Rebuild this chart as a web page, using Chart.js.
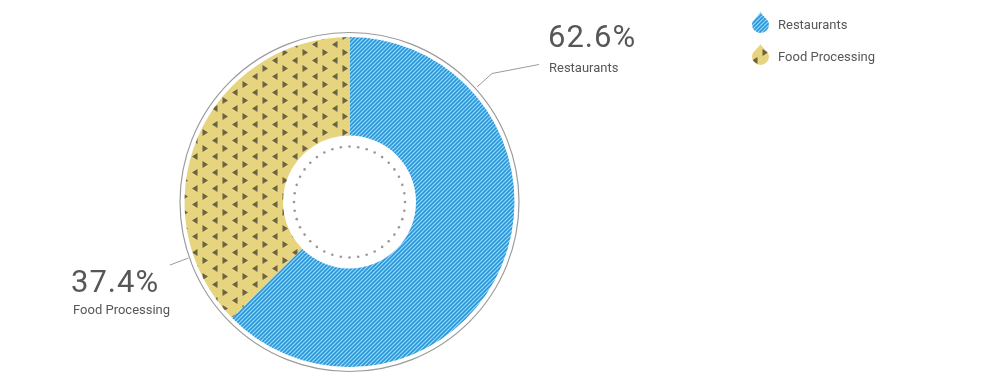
<!DOCTYPE html>
<html>
<head>
<meta charset="utf-8">
<script src="https://cdn.jsdelivr.net/npm/chart.js@4.4.1/dist/chart.umd.min.js"></script>
<style>
  html, body { margin: 0; padding: 0; background: #ffffff; }
  #wrap { width: 1000px; height: 380px; position: relative; }
</style>
</head>
<body>
<div id="wrap"><canvas id="c" width="1000" height="380"></canvas></div>
<script>
// ---- data ----
const categories = ['Restaurants', 'Food Processing'];
const shares = [62.6, 37.4];

// ---- patterns ----
function bluePattern() {
  const t = document.createElement('canvas');
  t.width = 4; t.height = 4;
  const g = t.getContext('2d');
  g.fillStyle = '#a3d6f4';
  g.fillRect(0, 0, 4, 4);
  g.strokeStyle = '#2698da';
  g.lineWidth = 1.6;
  g.beginPath();
  g.moveTo(-1, 5); g.lineTo(5, -1);
  g.moveTo(-1, 1); g.lineTo(1, -1);
  g.moveTo(3, 5); g.lineTo(5, 3);
  g.stroke();
  return g.createPattern(t, 'repeat');
}
function yellowPattern() {
  const t = document.createElement('canvas');
  t.width = 20; t.height = 16;
  const g = t.getContext('2d');
  g.fillStyle = '#e6d47e';
  g.fillRect(0, 0, 20, 16);
  g.fillStyle = '#6b6343';
  g.beginPath();
  g.moveTo(2.5, 1); g.lineTo(8, 4.5); g.lineTo(2.5, 8); g.closePath();
  g.moveTo(17.5, 9); g.lineTo(12, 12.5); g.lineTo(17.5, 16); g.closePath();
  g.fill();
  return g.createPattern(t, 'repeat');
}

const ctx0 = document.getElementById('c').getContext('2d');
const fills = [bluePattern(), yellowPattern()];

function dropPath(ctx, cx, top) {
  const r = 8.5, cy = top + 12.5;
  ctx.beginPath();
  ctx.moveTo(cx, top);
  ctx.bezierCurveTo(cx + 2, top + 4, cx + r, cy - 5, cx + r, cy);
  ctx.arc(cx, cy, r, 0, Math.PI);
  ctx.bezierCurveTo(cx - r, cy - 5, cx - 2, top + 4, cx, top);
  ctx.closePath();
}

const decor = {
  id: 'decor',
  afterDraw(chart) {
    const ctx = chart.ctx;
    const arc = chart.getDatasetMeta(0).data[0];
    const cx = arc.x, cy = arc.y, R = arc.outerRadius;
    ctx.save();
    // outer ring
    ctx.strokeStyle = '#9b9b9b';
    ctx.lineWidth = 1.2;
    ctx.beginPath();
    ctx.arc(cx, cy, R + 4.5, 0, Math.PI * 2);
    ctx.stroke();
    // dotted inner circle
    ctx.fillStyle = '#999999';
    const n = 40, rd = 55.5;
    for (let i = 0; i < n; i++) {
      const a = i / n * Math.PI * 2;
      ctx.beginPath();
      ctx.arc(cx + rd * Math.cos(a), cy + rd * Math.sin(a), 1.3, 0, Math.PI * 2);
      ctx.fill();
    }
    // leader lines
    ctx.strokeStyle = '#9b9b9b';
    ctx.lineWidth = 1;
    ctx.beginPath();
    ctx.moveTo(477, 87); ctx.lineTo(492, 73.5); ctx.lineTo(539, 64.5);
    ctx.moveTo(170, 265); ctx.lineTo(188.5, 258);
    ctx.stroke();
    // labels
    ctx.fillStyle = '#575757';
    ctx.textBaseline = 'alphabetic';
    ctx.textAlign = 'left';
    ctx.font = '400 31px "Roboto", sans-serif';
    ctx.letterSpacing = '1px';
    ctx.fillText(shares[0].toFixed(1) + '%', 548, 47);
    ctx.fillText(shares[1].toFixed(1) + '%', 71, 292);
    ctx.letterSpacing = '0px';
    ctx.font = '400 13px "Roboto", sans-serif';
    ctx.fillText(categories[0], 549, 71.5);
    ctx.fillText(categories[1], 73, 314);
    // legend
    const tops = [12, 44];
    const bases = [28.5, 61];
    for (let i = 0; i < categories.length; i++) {
      dropPath(ctx, 760.5, tops[i]);
      ctx.fillStyle = fills[i];
      ctx.fill();
      ctx.fillStyle = '#575757';
      ctx.font = '400 13px "Roboto", sans-serif';
      ctx.fillText(categories[i], 778, bases[i]);
    }
    ctx.restore();
  }
};

new Chart(ctx0, {
  type: 'doughnut',
  data: {
    labels: categories,
    datasets: [{
      data: shares,
      backgroundColor: fills,
      hoverBackgroundColor: fills,
      borderWidth: 0,
      hoverOffset: 0
    }]
  },
  options: {
    responsive: false,
    animation: false,
    cutout: 66.5,
    layout: { padding: { left: 184.5, right: 485.5, top: 37, bottom: 13 } },
    plugins: {
      legend: { display: false },
      tooltip: { enabled: false }
    },
    events: []
  },
  plugins: [decor]
});
</script>
</body>
</html>
